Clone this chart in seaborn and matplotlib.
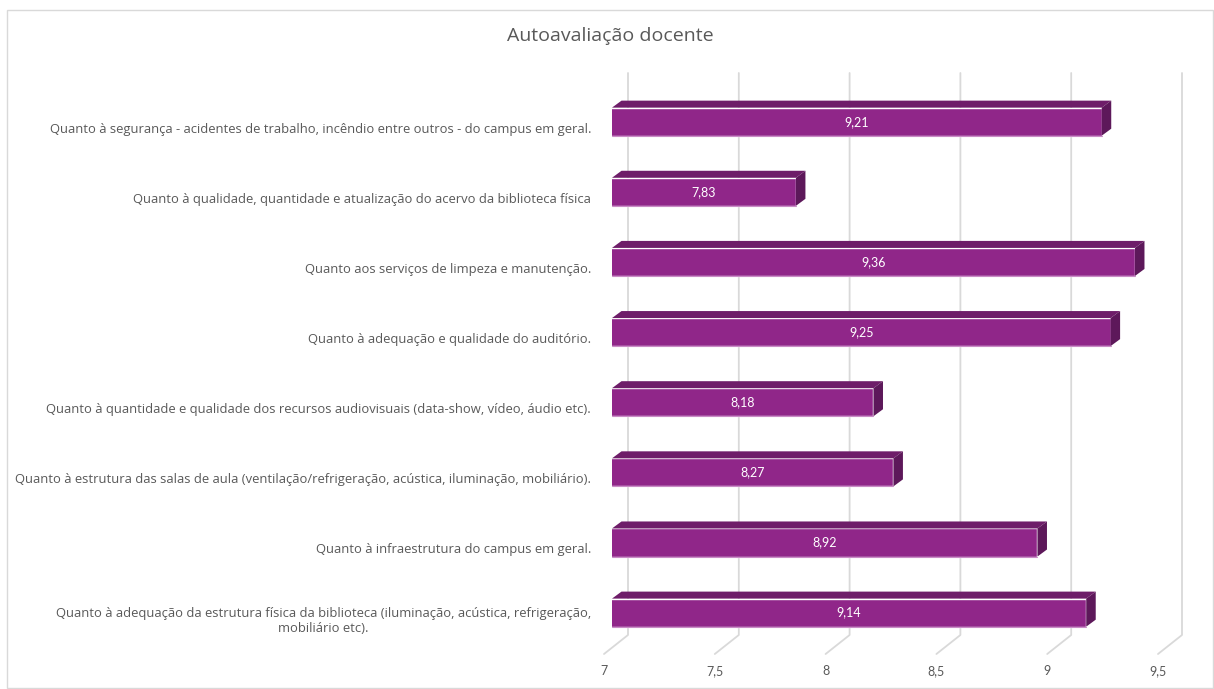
import numpy as np
import pandas as pd
import matplotlib
matplotlib.use("Agg")
import matplotlib.pyplot as plt
import matplotlib.transforms as mtransforms
from matplotlib.patches import Polygon, Rectangle
import seaborn as sns

# data (top to bottom as shown)
categories = [
    "Quanto à segurança - acidentes de trabalho, incêndio entre outros - do campus em geral.",
    "Quanto à qualidade, quantidade e atualização do acervo da biblioteca física",
    "Quanto aos serviços de limpeza e manutenção.",
    "Quanto à adequação e qualidade do auditório.",
    "Quanto à quantidade e qualidade dos recursos audiovisuais (data-show, vídeo, áudio etc).",
    "Quanto à estrutura das salas de aula (ventilação/refrigeração, acústica, iluminação, mobiliário).",
    "Quanto à infraestrutura do campus em geral.",
    "Quanto à adequação da estrutura física da biblioteca (iluminação, acústica, refrigeração,\nmobiliário etc).",
]
values = [9.21, 7.83, 9.36, 9.25, 8.18, 8.27, 8.92, 9.14]
x_ticks = [7, 7.5, 8, 8.5, 9, 9.5]
x_tick_labels = ["7", "7,5", "8", "8,5", "9", "9,5"]
title = "Autoavaliação docente"

FRONT = "#902689"
TOP = "#6E1D69"
SIDE = "#5D185A"
GRID = "#D9D9D9"
TEXT = "#595959"

W, H, DPI = 1214, 689, 100
X0, X1 = 7, 9.5

sns.set_style("white")
plt.rcParams["font.family"] = ["Open Sans", "DejaVu Sans"]

fig = plt.figure(figsize=(W / DPI, H / DPI), dpi=DPI)

# axes placed in pixels: front plane of the bars
left_px, right_px = 612, 1166
top_px, bot_px = 86.6, 647.7
ax = fig.add_axes([left_px / W, 1 - bot_px / H,
                   (right_px - left_px) / W, (bot_px - top_px) / H])

df = pd.DataFrame({"categoria": categories, "nota": values})
sns.barplot(data=df, y="categoria", x="nota", orient="h", color=FRONT,
            width=0.4, saturation=1, ax=ax, zorder=3)
ax.set_xlim(X0, X1)
ax.set_ylim(len(categories) - 0.5, -0.5)

# pixel -> data unit sizes
px_x = (X1 - X0) / (right_px - left_px)
px_y = len(categories) / (bot_px - top_px)

# 3D faces of the bars
dx, dy = 9.5 * px_x, 7 * px_y
h = 0.2
for i, v in enumerate(values):
    top = Polygon([(X0, i - h), (v, i - h), (v + dx, i - h - dy), (X0 + dx, i - h - dy)],
                  closed=True, facecolor=TOP, edgecolor="none", clip_on=False, zorder=3)
    side = Polygon([(v, i - h), (v + dx, i - h - dy), (v + dx, i + h - dy), (v, i + h)],
                   closed=True, facecolor=SIDE, edgecolor="none", clip_on=False, zorder=3)
    ax.add_patch(top)
    ax.add_patch(side)
    ax.plot([X0, v], [i + h, i + h], color="#C98BC6", lw=0.8, zorder=4, clip_on=False)
    ax.text((X0 + v) / 2, i, f"{v:.2f}".replace(".", ","), color="white",
            ha="center", va="center", fontsize=9, family=["Lato", "DejaVu Sans"], zorder=5)

# back wall gridlines and floor
y_wall_top = -0.5 - (top_px - 73) * px_y
y_wall_bot = -0.5 + (635 - top_px) * px_y
y_floor = -0.5 + (654 - top_px) * px_y
for t in x_ticks:
    xb = t + 16 * px_x
    xf = t - 8 * px_x
    ax.plot([xb, xb, xf], [y_wall_top, y_wall_bot, y_floor], color=GRID, lw=1.3,
            zorder=1, clip_on=False)

# ticks and labels
ax.set_xticks(x_ticks)
ax.set_xticklabels(x_tick_labels, fontsize=9, color=TEXT, family=["Lato", "DejaVu Sans"])
ax.tick_params(axis="x", length=0, pad=12)
for lab in ax.get_xticklabels():
    lab.set_verticalalignment("baseline")
    lab.set_transform(lab.get_transform() + mtransforms.ScaledTranslation(-8 / DPI, -11 / DPI, fig.dpi_scale_trans))

ax.set_yticks(range(len(categories)))
ax.set_yticklabels(categories, fontsize=9.4, color=TEXT, multialignment="center")
ax.tick_params(axis="y", length=0, pad=15)
for lab in ax.get_yticklabels():
    lab.set_transform(lab.get_transform() + mtransforms.ScaledTranslation(0, -6 / DPI, fig.dpi_scale_trans))

ax.set_xlabel("")
ax.set_ylabel("")
for s in ax.spines.values():
    s.set_visible(False)
ax.patch.set_alpha(0)

fig.text(610 / W, 1 - 36 / H, title, ha="center", va="center", fontsize=14, color=TEXT)

# chart area border
fig.patches.append(Rectangle((7 / W, 1 - 688 / H), (1213 - 7) / W, (688 - 10) / H,
                             transform=fig.transFigure, fill=False, edgecolor=GRID, lw=1))

fig.savefig("out.png", dpi=DPI)
